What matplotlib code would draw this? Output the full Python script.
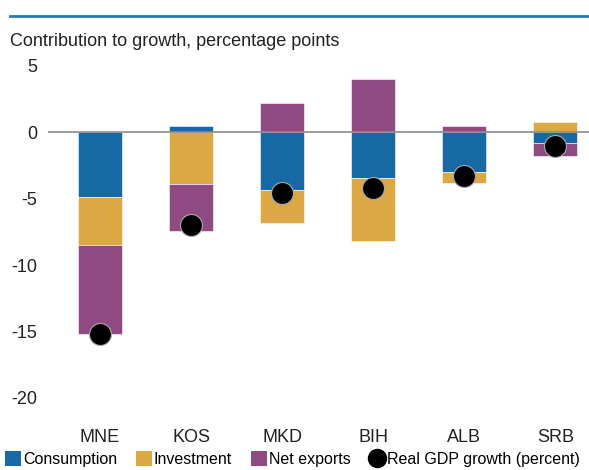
import numpy as np
import matplotlib.pyplot as plt
from matplotlib.patches import Patch
from matplotlib.lines import Line2D

plt.rcParams['font.family'] = ['Liberation Sans', 'DejaVu Sans']
plt.rcParams['axes.unicode_minus'] = False

countries = ["MNE", "KOS", "MKD", "BIH", "ALB", "SRB"]
consumption = [-4.9, 0.5, -4.3, -3.4, -3.0, -0.8]
investment = [-3.6, -3.9, -2.5, -4.8, -0.8, 0.8]
net_exports = [-6.7, -3.5, 2.2, 4.0, 0.5, -1.0]
gdp_growth = [-15.2, -7.0, -4.6, -4.2, -3.3, -1.0]

series = [("Consumption", consumption, "#1769a6"),
          ("Investment", investment, "#dca843"),
          ("Net exports", net_exports, "#8f4a82")]

fig = plt.figure(figsize=(5.89, 4.70), dpi=100)
ax = fig.add_axes([48 / 589, 1 - 398 / 470, 541 / 589, 332 / 470])

x = np.arange(len(countries))
pos_base = np.zeros(len(countries))
neg_base = np.zeros(len(countries))
for name, vals, col in series:
    vals = np.array(vals)
    base = np.where(vals >= 0, pos_base, neg_base)
    ax.bar(x, vals, bottom=base, width=0.48, color=col, edgecolor="white",
           linewidth=0.4, zorder=2)
    pos_base += np.where(vals >= 0, vals, 0)
    neg_base += np.where(vals < 0, vals, 0)

ax.axhline(0, color="#8a8a8a", linewidth=1.2, zorder=3)
ax.scatter(x, gdp_growth, s=250, color="black", edgecolor="#aaaaaa",
           linewidth=0.8, zorder=4)

ax.set_xlim(-0.571, 5.37)
ax.set_ylim(-20, 5)
ax.set_yticks([5, 0, -5, -10, -15, -20])
ax.set_xticks(x)
ax.set_xticklabels(countries)
ax.tick_params(axis="both", length=0, labelsize=13, colors="#222222")
ax.tick_params(axis="x", pad=22)
ax.tick_params(axis="y", pad=8)
for s in ax.spines.values():
    s.set_visible(False)

# top rule and title
fig.add_artist(Line2D([10 / 589, 1], [1 - 16 / 470] * 2, color="#2a78b5", linewidth=2))
fig.text(10 / 589, 1 - 42 / 470, "Contribution to growth, percentage points",
         fontsize=13, va="center", ha="left", color="#222222")

handles = [Patch(facecolor=c, label=n) for n, _, c in series]
handles.append(Line2D([], [], marker="o", color="black", linestyle="none",
                      markersize=13, label="Real GDP growth (percent)"))
fig.legend(handles=handles, loc="center left", bbox_to_anchor=(0.008, 1 - 459 / 470),
           ncol=4, frameon=False, fontsize=11.5, handlelength=1.0, handleheight=1.1,
           handletextpad=0.15, columnspacing=1.15, borderaxespad=0, borderpad=0.0)

fig.savefig("out.png", dpi=100)
